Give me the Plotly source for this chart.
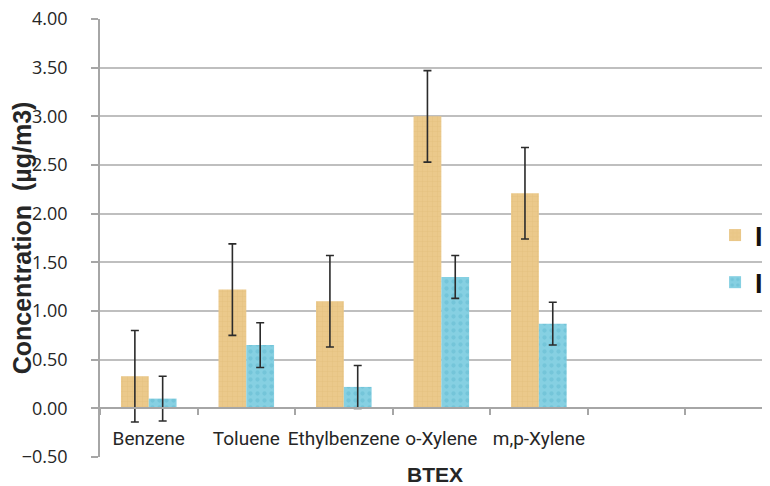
import plotly.graph_objects as go

categories = ["Benzene", "Toluene", "Ethylbenzene", "o-Xylene", "m,p-Xylene", " ", "  "]
series_names = ["<b>Indoor</b>", "<b>Indoor (2)</b>"]
tan_values = [0.33, 1.22, 1.10, 3.00, 2.21, None, None]
tan_errors = [0.47, 0.47, 0.47, 0.47, 0.47, None, None]
blue_values = [0.10, 0.65, 0.22, 1.35, 0.87, None, None]
blue_errors = [0.23, 0.23, 0.22, 0.22, 0.22, None, None]
y_ticks = [-0.5, 0.0, 0.5, 1.0, 1.5, 2.0, 2.5, 3.0, 3.5, 4.0]

fig = go.Figure()
fig.add_trace(go.Bar(
    x=categories, y=tan_values, name=series_names[0], legendgroup="a",
    marker=dict(color="#EBC98B", line=dict(width=0),
                pattern=dict(shape="+", fgcolor="#D9B36E", size=5, solidity=0.15)),
    error_y=dict(type="data", array=tan_errors, color="#2b2b2b", thickness=1.6, width=4),
))
fig.add_trace(go.Bar(
    x=categories, y=blue_values, name=series_names[1], legendgroup="b",
    marker=dict(color="#86D0E2", line=dict(width=0),
                pattern=dict(shape=".", fgcolor="#62B9D0", size=7, solidity=0.3)),
    error_y=dict(type="data", array=blue_errors, color="#2b2b2b", thickness=1.6, width=4),
))

fig.update_layout(
    width=762, height=478,
    margin=dict(l=92, r=0, t=11, b=29, autoexpand=False),
    paper_bgcolor="white", plot_bgcolor="white",
    barmode="group", bargap=0.43, bargroupgap=0,
    font=dict(family="Open Sans, Liberation Sans, sans-serif", color="#404040"),
    legend=dict(x=0.918, xanchor="left", y=0.452, yanchor="middle",
                font=dict(size=27, color="#111111", family="Liberation Sans"),
                tracegroupgap=9, bgcolor="rgba(0,0,0,0)"),
    xaxis=dict(
        type="category", range=[-0.5, 6.37], automargin=False,
        anchor="free", position=0.5 / 4.5,
        showline=True, linecolor="#A6A6A6", linewidth=1.5,
        ticks="outside", tickson="boundaries", ticklen=6, tickcolor="#A6A6A6", tickwidth=1.5,
        tickangle=0, tickfont=dict(size=19, color="#262626", family="Roboto, Open Sans, sans-serif"),
        ticklabelstandoff=13, showgrid=False,
        title=dict(text="<b>BTEX</b>", font=dict(size=21, color="#262626",
                   family="Liberation Sans"), standoff=17),
    ),
    yaxis=dict(
        range=[-0.5, 4.0001], tickvals=y_ticks, tickformat=".2f", automargin=False,
        ticklabeloverflow="allow",
        showline=True, linecolor="#A6A6A6", linewidth=1.5,
        ticks="outside", ticklen=7, tickcolor="#A6A6A6", tickwidth=1.5,
        showgrid=True, gridcolor="#BFBFBF", gridwidth=1.5, zeroline=False,
        tickfont=dict(size=18, color="#262626"), ticklabelstandoff=20,
        title=dict(text="<b>Concentration  (µg/m3)</b>", font=dict(size=25, color="#262626",
                   family="Liberation Sans"), standoff=9),
    ),
)

fig.write_html("out.html")
